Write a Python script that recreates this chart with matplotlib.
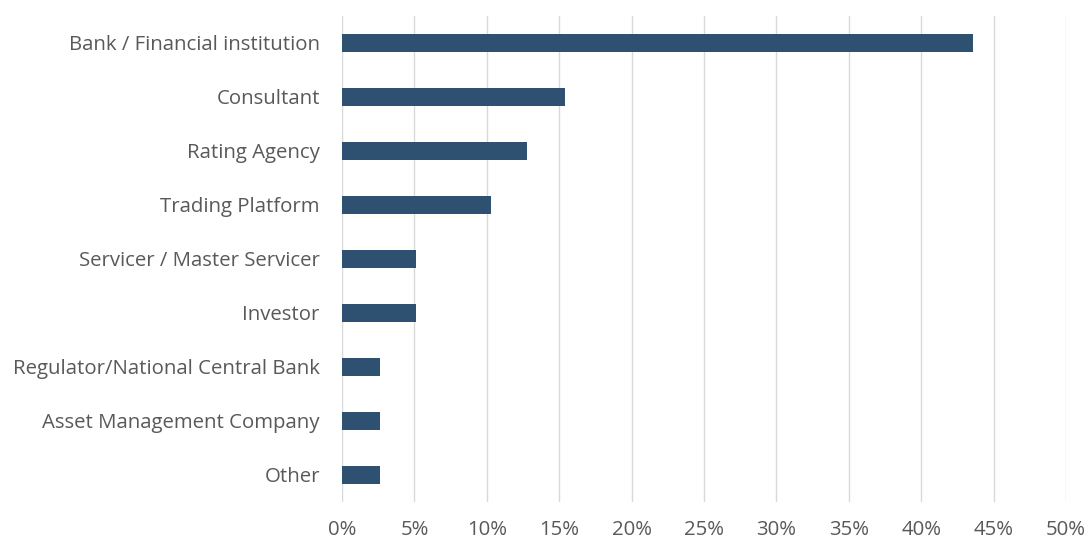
import matplotlib
matplotlib.use("Agg")
import matplotlib.pyplot as plt
from matplotlib.ticker import FuncFormatter, MultipleLocator

categories = [
    "Bank / Financial institution",
    "Consultant",
    "Rating Agency",
    "Trading Platform",
    "Servicer / Master Servicer",
    "Investor",
    "Regulator/National Central Bank",
    "Asset Management Company",
    "Other",
]
values = [43.6, 15.4, 12.8, 10.3, 5.1, 5.1, 2.6, 2.6, 2.6]

plt.rcParams['font.family'] = ['Open Sans', 'DejaVu Sans']

fig = plt.figure(figsize=(10.91, 5.42), dpi=100)
ax = fig.add_axes([0.3135, 0.0738, 0.977 - 0.3135, 0.9705 - 0.0738])

ypos = list(range(len(categories)))
ax.barh(ypos, values, height=0.35, color="#2E5171", zorder=3)
ax.set_ylim(len(categories) - 0.5, -0.5)
ax.set_yticks(ypos)
ax.set_yticklabels(categories)
ax.set_xlim(0, 50)
ax.xaxis.set_major_locator(MultipleLocator(5))
ax.xaxis.set_major_formatter(FuncFormatter(lambda v, p: f"{v:.0f}%"))
ax.grid(axis="x", color="#D9D9D9", linewidth=1, zorder=0)
for s in ax.spines.values():
    s.set_visible(False)
ax.tick_params(axis="both", length=0, labelsize=14.7, labelcolor="#595959")
ax.tick_params(axis="y", pad=16)
ax.tick_params(axis="x", pad=13)

fig.savefig("out.png", dpi=100)
